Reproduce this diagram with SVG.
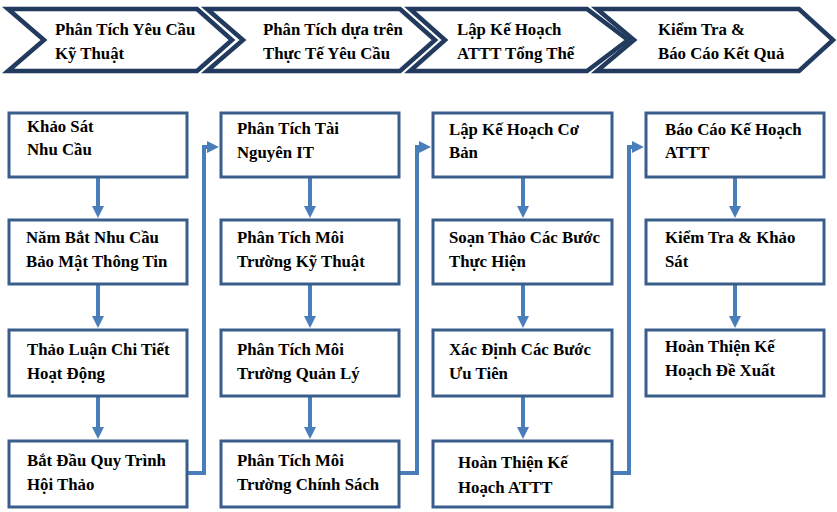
<svg xmlns="http://www.w3.org/2000/svg" width="837" height="512" viewBox="0 0 837 512">
<style>
.chev{fill:#ffffff;stroke:#213a5e;stroke-width:4.5;stroke-linejoin:miter}
.box{fill:#ffffff;stroke:#3a5e8c;stroke-width:3}
.t{font-family:"Liberation Serif","Times New Roman",serif;font-weight:bold;font-size:16.8px;fill:#000}
.c{fill:none;stroke:#4a7ebb;stroke-width:4}
</style>
<defs>
<marker id="ah" viewBox="0 0 10 10" refX="1.7" refY="5" markerWidth="3" markerHeight="3" orient="auto" markerUnits="strokeWidth">
<path d="M0,0 L10,5 L0,10 Z" fill="#4a7ebb"/>
</marker>
</defs>
<rect width="837" height="512" fill="#ffffff"/>
<g id="header1"><polygon class="chev" points="8,9 197,9 232,40 197,71 8,71 44,40"/><text class="t" x="55" y="35">Phân Tích Yêu Cầu</text><text class="t" x="55" y="59">Kỹ Thuật</text></g>
<g id="header2"><polygon class="chev" points="207,9 400,9 435,40 400,71 207,71 243,40"/><text class="t" x="263" y="35">Phân Tích dựa trên</text><text class="t" x="263" y="59">Thực Tế Yêu Cầu</text></g>
<g id="header3"><polygon class="chev" points="410,9 587,9 628,40 587,71 410,71 445,40"/><text class="t" x="457" y="35">Lập Kế Hoạch</text><text class="t" x="457" y="59">ATTT Tổng Thể</text></g>
<g id="header4"><polygon class="chev" points="597,9 799,9 833,40 799,71 597,71 634,40"/><text class="t" x="658" y="35">Kiểm Tra &amp;</text><text class="t" x="658" y="59">Báo Cáo Kết Quả</text></g>
<g id="connectors">
<path class="c" d="M98,177 V208" marker-end="url(#ah)"/>
<path class="c" d="M98,284 V318" marker-end="url(#ah)"/>
<path class="c" d="M98,396 V429" marker-end="url(#ah)"/>
<path class="c" d="M310,177 V208" marker-end="url(#ah)"/>
<path class="c" d="M310,284 V318" marker-end="url(#ah)"/>
<path class="c" d="M310,396 V429" marker-end="url(#ah)"/>
<path class="c" d="M523,177 V208" marker-end="url(#ah)"/>
<path class="c" d="M523,284 V318" marker-end="url(#ah)"/>
<path class="c" d="M523,396 V429" marker-end="url(#ah)"/>
<path class="c" d="M735,177 V208" marker-end="url(#ah)"/>
<path class="c" d="M735,284 V318" marker-end="url(#ah)"/>
<path class="c" d="M187,473 H204 V147 H209" marker-end="url(#ah)"/>
<path class="c" d="M399,473 H417 V147 H421" marker-end="url(#ah)"/>
<path class="c" d="M612,473 H629 V147 H634" marker-end="url(#ah)"/>
</g>
<g id="n1"><rect class="box" x="9" y="113" width="178" height="64"/><text class="t" x="27" y="132">Khảo Sát</text><text class="t" x="27" y="155">Nhu Cầu</text></g>
<g id="n2"><rect class="box" x="9" y="220" width="178" height="64"/><text class="t" x="26" y="243">Năm Bắt Nhu Cầu</text><text class="t" x="26" y="267">Bảo Mật Thông Tin</text></g>
<g id="n3"><rect class="box" x="9" y="330" width="178" height="66"/><text class="t" x="27" y="355">Thảo Luận Chi Tiết</text><text class="t" x="27" y="379">Hoạt Động</text></g>
<g id="n4"><rect class="box" x="9" y="441" width="178" height="66"/><text class="t" x="27" y="466">Bắt Đầu Quy Trình</text><text class="t" x="27" y="490">Hội Thảo</text></g>
<g id="n5"><rect class="box" x="221" y="113" width="178" height="64"/><text class="t" x="237" y="134">Phân Tích Tài</text><text class="t" x="237" y="158">Nguyên IT</text></g>
<g id="n6"><rect class="box" x="221" y="220" width="178" height="64"/><text class="t" x="237" y="243">Phân Tích Môi</text><text class="t" x="237" y="267">Trường Kỹ Thuật</text></g>
<g id="n7"><rect class="box" x="221" y="330" width="178" height="66"/><text class="t" x="237" y="355">Phân Tích Môi</text><text class="t" x="237" y="379">Trường Quản Lý</text></g>
<g id="n8"><rect class="box" x="221" y="441" width="178" height="66"/><text class="t" x="237" y="466">Phân Tích Môi</text><text class="t" x="237" y="490">Trường Chính Sách</text></g>
<g id="n9"><rect class="box" x="433" y="113" width="179" height="64"/><text class="t" x="449" y="135">Lập Kế Hoạch Cơ</text><text class="t" x="449" y="158">Bản</text></g>
<g id="n10"><rect class="box" x="433" y="220" width="179" height="64"/><text class="t" x="449" y="243">Soạn Thảo Các Bước</text><text class="t" x="449" y="267">Thực Hiện</text></g>
<g id="n11"><rect class="box" x="433" y="330" width="179" height="66"/><text class="t" x="449" y="355">Xác Định Các Bước</text><text class="t" x="449" y="379">Ưu Tiên</text></g>
<g id="n12"><rect class="box" x="433" y="441" width="179" height="66"/><text class="t" x="458" y="468">Hoàn Thiện Kế</text><text class="t" x="458" y="493">Hoạch ATTT</text></g>
<g id="n13"><rect class="box" x="646" y="113" width="178" height="64"/><text class="t" x="665" y="135">Báo Cáo Kế Hoạch</text><text class="t" x="665" y="158">ATTT</text></g>
<g id="n14"><rect class="box" x="646" y="220" width="178" height="64"/><text class="t" x="665" y="243">Kiểm Tra &amp; Khảo</text><text class="t" x="665" y="267">Sát</text></g>
<g id="n15"><rect class="box" x="646" y="330" width="178" height="66"/><text class="t" x="665" y="352">Hoàn Thiện Kế</text><text class="t" x="665" y="376">Hoạch Đề Xuất</text></g>
</svg>
